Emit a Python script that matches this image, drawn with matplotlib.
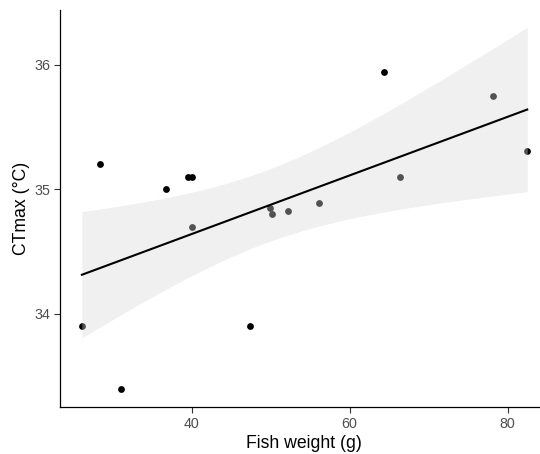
import numpy as np
import matplotlib
matplotlib.use("Agg")
import matplotlib.pyplot as plt

plt.rcParams['font.family'] = ['Liberation Sans', 'DejaVu Sans']

fish_weight = [26.1, 28.4, 31.0, 36.8, 39.6, 40.0, 40.0, 47.4, 49.9, 50.2,
               52.2, 56.1, 64.3, 66.4, 78.2, 82.5]
ctmax = [33.90, 35.20, 33.40, 35.00, 35.10, 35.10, 34.70, 33.90, 34.85, 34.80,
         34.83, 34.89, 35.94, 35.10, 35.75, 35.31]
x_ticks = [40, 60, 80]
y_ticks = [34, 35, 36]

x = np.array(fish_weight)
y = np.array(ctmax)
n = len(x)
slope, intercept = np.polyfit(x, y, 1)
xs = np.linspace(x.min(), x.max(), 80)
fit = intercept + slope * xs
resid = y - (intercept + slope * x)
s = np.sqrt(np.sum(resid ** 2) / (n - 2))
sxx = np.sum((x - x.mean()) ** 2)
t_crit = 2.1448  # t(0.975, df=14)
se = s * np.sqrt(1 / n + (xs - x.mean()) ** 2 / sxx)
lo = fit - t_crit * se
hi = fit + t_crit * se

W, H = 540, 454
fig = plt.figure(figsize=(W / 100, H / 100), dpi=100)
left_px, right_px, top_px, bottom_px = 60, 547, 10, 407
ax = fig.add_axes([left_px / W, 1 - bottom_px / H,
                   (right_px - left_px) / W, (bottom_px - top_px) / H])

ax.scatter(x, y, s=24, color='black', zorder=2, linewidths=0)
ax.fill_between(xs, lo, hi, color=(0.85, 0.85, 0.85), alpha=0.38,
                linewidth=0, zorder=3)
ax.plot(xs, fit, color='black', linewidth=1.5, zorder=4)

ax.set_xlim(23.33, 85.0)
ax.set_ylim(33.253, 36.44)
ax.set_xticks(x_ticks)
ax.set_yticks(y_ticks)
ax.tick_params(axis='both', length=4, width=0.8, color='#333333',
               labelcolor='#4D4D4D', labelsize=10.3, pad=3)
for side in ['top', 'right']:
    ax.spines[side].set_visible(False)
for side in ['left', 'bottom']:
    ax.spines[side].set_linewidth(0.9)
    ax.spines[side].set_color('black')

ax.set_xlabel('Fish weight (g)', fontsize=12.7, color='black', labelpad=3)
ax.set_ylabel('CTmax (°C)', fontsize=12.7, color='black', labelpad=3)

fig.savefig('out.png', dpi=100)
